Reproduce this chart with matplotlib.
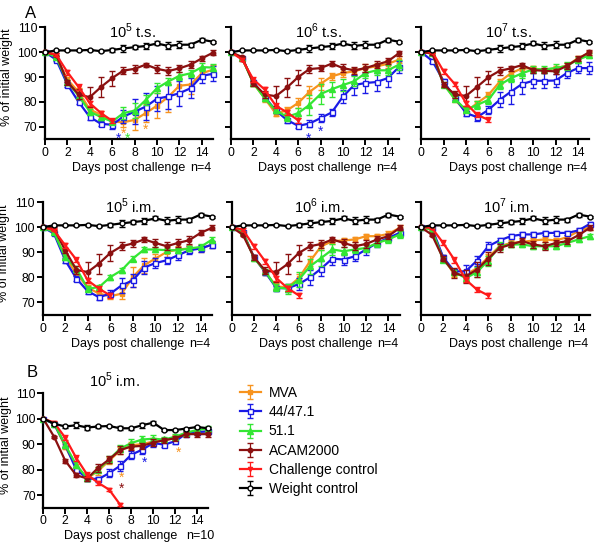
import matplotlib
matplotlib.use("Agg")
import matplotlib.pyplot as plt
from matplotlib.transforms import offset_copy

plt.rcParams['font.family'] = ['Liberation Sans', 'DejaVu Sans']
plt.rcParams['mathtext.fontset'] = 'custom'
plt.rcParams['mathtext.rm'] = 'Liberation Sans'

days = list(range(16))
names = ['MVA', '44/47.1', '51.1', 'ACAM2000', 'Challenge control', 'Weight control']
colors = ['#F7931E', '#1A1AE6', '#33E633', '#8B1010', '#FF1A1A', 'black']

# weight control, shared by all panels of A
wc_a = [100, 100.7, 100.7, 100.7, 100.9, 100.4, 100.9, 101.5, 102, 102.5, 103.5, 102.5, 103, 103, 105, 104.2]
wc_a_err = [0, .3, .3, .3, .3, .4, .9, 1.5, .8, 1.3, .8, 1.4, 1.5, .8, .8, .4]

# 10^5 t.s.  (mva, 44/47.1, 51.1, acam2000)
ts5 = [[100, 98, 89, 84, 77, 74.8, 72.1, 71.8, 72.8, 75.5, 78.5, 82, 86.5, 87, 91.5, 93],
       [100, 97, 87, 80, 73.9, 71.2, 70.8, 74.1, 76.1, 78.1, 81.3, 82.2, 83.5, 85.5, 90.5, 91.3],
       [100, 98, 88, 82.5, 76.1, 73.9, 72.1, 75.5, 76.5, 80.8, 85.5, 88.2, 90.5, 91.5, 94, 93.8],
       [100, 99, 88, 83, 81.9, 86, 89.6, 92.6, 93.3, 95, 93.3, 92.4, 93.5, 95, 97.5, 99.8]]
ts5_err = [[0, .5, 1, 1.5, 1, 1.5, 1, 2, 4, 3.5, 5, 6, 4, 4, 2, 2],
           [0, .5, 1, 1, 1, 1, 1.5, 2.5, 5, 5.5, 5, 5, 5, 4, 3, 3],
           [0, .5, 1, 1, 1, 1, 1, 2.5, 3, 2, 2, 1.5, 1.5, 1.5, 1.5, 1.5],
           [0, .5, 1, 2, 4, 4, 3, 1.5, 1.5, .8, 1.5, 1.5, 1.5, 1.5, 1, 1]]
ts5_chal = [100, 99, 92, 86, 79.5, 75.5, 72.4]
ts5_chal_err = [0, .5, 1, 1.2, 1, 1, 1]

# 10^6 t.s.
ts6 = [[100, 97.5, 87.5, 81.5, 75.3, 76.6, 79.6, 84, 87.3, 90.3, 91.6, 92.3, 93.6, 94.3, 95.3, 97],
       [100, 97.5, 88, 82, 76.6, 72.7, 70.4, 71.3, 73.5, 75.8, 82.2, 86.8, 87.6, 88, 89.6, 94],
       [100, 97.5, 87.5, 81.5, 76.6, 74, 75.5, 78.8, 83.2, 85.1, 86.8, 88.3, 91.6, 92.7, 92.7, 95],
       [100, 98, 87.5, 83, 82.3, 85.8, 90, 93.2, 93.6, 95.4, 93.6, 92.7, 93.6, 95, 96.3, 99.6]]
ts6_err = [[0, .5, 1, 1.5, 1, 1.5, 2, 2.5, 2.5, 1.5, 1.5, 1.5, 1.5, 1.5, 1.5, 1.5],
           [0, .5, 1, 1, 1, 1, 1, 1.5, 1.5, 1.5, 2.5, 4, 4, 3.5, 3.5, 2.5],
           [0, .5, 1, 1, 1, 1.5, 2, 4, 4, 3, 2.5, 2, 2, 2, 2, 2],
           [0, .5, 1, 1.5, 4, 4, 3, 1.5, 1.2, 1, 1.5, 1.5, 1.5, 1.5, 1.2, 1]]
ts6_chal = [100, 97, 89, 85, 78.5, 75.8, 72.6]
ts6_chal_err = [0, .5, 1, 1, 1, 1, 1]

# 10^7 t.s.
ts7 = [[100, 100, 87.6, 81, 76.1, 79.5, 82.8, 88.1, 91.5, 93.5, 93.5, 92.8, 93.6, 94.5, 97.6, 99.6],
       [100, 96.5, 88.3, 81.7, 75.5, 73.9, 76.8, 80.8, 84.1, 87.2, 88.5, 88.5, 88.6, 91.6, 93.6, 93.6],
       [100, 99.5, 87, 81.2, 76.8, 78.8, 80.8, 86.8, 89.5, 91.5, 93.1, 93.1, 93.6, 94.5, 97, 98.7],
       [100, 99.5, 87, 83, 82.4, 86.1, 89.9, 92.5, 93.5, 94.8, 92.8, 92.5, 92.3, 94.5, 97.3, 100]]
ts7_err = [[0, .5, 1, 1, 1, 1, 1, 1, 1, 1, 1, 1, 1, 1, 1, 1],
           [0, .8, 1, 1, 1, 1.5, 1.5, 3, 5, 4, 3, 3, 2.5, 2, 2, 2.5],
           [0, .5, 1, 1, 1, 1.5, 1.5, 1.5, 1.5, 2, 1.5, 1.5, 1.5, 1.5, 1, 1],
           [0, .5, 1, 1.5, 4, 4, 2.5, 1.5, 1, 1, 1, 1, 1, 1.2, 1, 1]]
ts7_chal = [100, 100, 92.3, 87.2, 79.5, 74.8, 72.8]
ts7_chal_err = [0, .5, 1, 1, 1, 1, 1]

# 10^5 i.m.
im5 = [[100, 98, 88, 81.5, 76, 73.5, 72.5, 73.5, 80.1, 84.8, 87.5, 90.1, 91.1, 91.5, 91.5, 93],
       [100, 97.5, 86.8, 79.5, 74.5, 72.1, 73.5, 76.8, 78.8, 83.9, 85.7, 86.8, 88.8, 90.8, 91.5, 93],
       [100, 98, 88, 83.5, 75.5, 76.1, 80.1, 82.8, 87.5, 91.1, 91.1, 90.8, 90.8, 91.5, 92.1, 95],
       [100, 99.5, 90.8, 83, 82.1, 85.5, 89.7, 92.4, 93.5, 95.1, 93.7, 92.4, 93.7, 94.8, 97.7, 99.7]]
im5_err = [[0, .5, 1, 1, 1, 1, 1, 2, 4, 3, 2, 2, 1.5, 1.5, 1.5, 1.5],
           [0, .5, 1, 1, 1, 1, 1.5, 3, 2.5, 2.5, 2, 1.5, 2, 1.5, 1.5, 1.5],
           [0, .5, 1, 1, 1, 1, 1, 1, 1, 1, 1, 1, 1, 1, 1, 1],
           [0, .5, 1, 1.5, 4, 4, 3, 1.5, 1.5, 1, 1.5, 1.5, 1.5, 1.5, 1, 1]]
im5_chal = [100, 98.8, 92.8, 87, 78.8, 75.5, 72.8]
im5_chal_err = [0, .5, 1, 1, 1, 1, 1]

# 10^6 i.m.
im6 = [[100, 98, 88, 82.1, 76.4, 76, 79.7, 86.4, 92.4, 94.4, 94.7, 95.1, 96.4, 96.4, 97.3, 99.7],
       [100, 98, 88, 82.1, 75.7, 75.7, 77.3, 80, 83.5, 87.5, 87.1, 88.4, 91.1, 93.7, 95.7, 97.7],
       [100, 98, 87.7, 82.4, 76, 75.5, 79.1, 84.4, 87.7, 91.1, 90.4, 91.1, 91.7, 93.7, 95.1, 97.1],
       [100, 97, 88, 82.7, 82.1, 85.3, 89.7, 92.4, 93.3, 95.1, 93.7, 92.4, 93.3, 95.1, 96.4, 99.7]]
im6_err = [[0, .5, 1, 1, 1.5, 1.5, 1.5, 2, 1.5, 1, 1, 1, 1, 1, 1, 1],
           [0, .5, 1, 1, 1, 1.5, 2.5, 3, 3, 2.5, 2, 2, 2, 1.5, 1.5, 1.5],
           [0, .5, 1, 1, 1.5, 2, 3, 3, 3, 2, 1.5, 1.5, 1.5, 1.5, 1.5, 1.5],
           [0, .5, 1, 1.5, 4, 4, 3, 1.5, 1.5, 1, 1.5, 1.5, 1.5, 1.5, 1, 1]]
im6_chal = [100, 99, 92.4, 86.4, 79.7, 75.7, 72.8]
im6_chal_err = [0, .5, 1, 1, 1, 1, 1]

# 10^7 i.m.
im7 = [[100, 99, 88, 81, 81, 83.7, 88, 92.4, 93.7, 94.1, 94.7, 95.1, 94.7, 96, 98.4, 100],
       [100, 99.7, 88, 82.4, 82.4, 86.7, 92.4, 94.7, 96.4, 97.1, 97.1, 97.7, 97.7, 97.7, 98.7, 101.3],
       [100, 99, 87, 82.1, 79.7, 82.1, 86.7, 92.4, 93.1, 93.1, 92.4, 92.4, 92.4, 93.7, 95.1, 96.4],
       [100, 97, 87.5, 81.7, 80.4, 83.1, 87.5, 91.7, 93.1, 94.4, 93.1, 92.4, 93.7, 94.4, 96.8, 99.7]]
im7_err = [[0, .5, 1, 1, 1.5, 1.5, 1.5, 1, 1, 1, 1, 1, 1, 1, 1, 1],
           [0, .5, 1, 1, 2.5, 2, 1.5, 1, .8, .8, .8, .8, .8, .8, .8, .8],
           [0, .5, 1, 1, 1.5, 2, 2, 1.5, 1, 1, 1, 1, 1, 1, 1, 1],
           [0, .5, 1, 2, 2.5, 3, 2.5, 1.5, 1, 1.2, 1.5, 1.5, 1.2, 1.2, 1.2, 1]]
im7_chal = [100, 99.7, 93.7, 87, 79.1, 75.1, 72.8]
im7_chal_err = [0, .5, 1, 1.2, 1, 1, 1]

# B: 10^5 i.m., n=10
b5 = [[100, 98, 89, 81, 76.5, 79.5, 83.5, 87.5, 89.5, 90, 91, 91.5, 92.5, 94, 94.5, 95],
      [100, 97.8, 89.7, 80, 76.6, 76.2, 78.6, 81.5, 85.8, 87.8, 90.4, 89.8, 91.1, 94.1, 94.7, 95],
      [100, 98, 89.7, 81.9, 76.6, 80, 84, 88.2, 90.4, 91.8, 92.1, 91.8, 92.9, 94.5, 95.5, 96.1],
      [100, 92.8, 83.5, 77.8, 76.5, 80.7, 84, 87.7, 89, 89.3, 90.6, 91.5, 92.3, 93.9, 93.9, 93.9]]
b5_err = [[0, .5, 1, 1, 1, 1.5, 1.5, 1.5, 1.5, 1.5, 1.5, 1, 1, 1, 1, 1],
          [0, .5, 1, 1, 1, 1, 1.5, 2, 1.5, 1.5, 1.5, 1, 1, 1, 1, 1],
          [0, .5, 1, 1, 1, 1, 1.5, 1.5, 1.5, 1.5, 1.5, 1, 1, 1, 1, 1],
          [0, .5, .8, .8, 1, 1.5, 1.5, 1.5, 1.2, 1.2, 1.2, 1, 1, 1, 1, 1]]
b5_chal = [100, 98.4, 92.5, 84.6, 78, 74.8, 72.1, 66.2]
b5_chal_err = [0, .5, 1, 1.2, 1, .8, .5, .5]
wc_b = [100, 98, 96.9, 97.4, 96.5, 96.9, 97.1, 96.2, 96.2, 97.4, 98.4, 95.5, 95.5, 96.1, 96.7, 96.2]
wc_b_err = [0, .5, .6, 1.2, .8, .6, .5, .8, .6, 1, .8, .5, .4, .4, .4, .4]

# significance stars: (day, value, series index)
ts5_stars = [(6.6, 66.6, 1), (7.0, 68.4, 0), (7.4, 66.6, 2), (9.0, 70.3, 0)]
ts6_stars = [(6.95, 66.4, 1), (8.0, 69.5, 1)]
b5_stars = [(7.1, 78.0, 0), (7.1, 74.0, 3), (9.2, 84.0, 1), (12.3, 88.0, 0)]

markers = ['s', 's', '^', 'o', 'v', 'o']
mfcs = [colors[0], 'white', colors[2], colors[3], colors[4], 'white']
msizes = [3.2, 3.6, 3.8, 3.2, 3, 3.5]


def draw(ax, means, errs, chal, chal_err, wc, wc_err, stars=()):
    handles = []
    series = list(zip(means, errs)) + [(chal, chal_err), (wc, wc_err)]
    for i, (m, e) in enumerate(series):
        x = days[:len(m)]
        h = ax.errorbar(x, m, yerr=e, color=colors[i], marker=markers[i],
                        mfc=mfcs[i], mec=colors[i], ms=msizes[i], mew=1.0,
                        lw=1.6, elinewidth=0.9, capsize=2.2, capthick=0.9,
                        clip_on=False, zorder=3 + i)
        for art in h.lines[1] + h.lines[2]:
            art.set_clip_on(False)
        handles.append(h)
    star_tr = offset_copy(ax.transData, fig=ax.figure, y=-2.5, units='points')
    for d, v, k in stars:
        ax.text(d, v, '*', color=colors[k], ha='center', va='center',
                fontsize=10, transform=star_tr)
    ax.set_xlim(0, 15)
    ax.set_ylim(65, 110)
    ax.set_xticks(range(0, 16, 2))
    ax.set_yticks([70, 80, 90, 100, 110])
    for s in ['top', 'right']:
        ax.spines[s].set_visible(False)
    for s in ['left', 'bottom']:
        ax.spines[s].set_linewidth(1.6)
    ax.tick_params(width=1.4, length=4, labelsize=8.8, pad=1.5)
    return handles


fig = plt.figure(figsize=(6, 5.46), dpi=100)

positions = [[0.075, 0.745, 0.280, 0.205], [0.385, 0.745, 0.280, 0.205], [0.702, 0.745, 0.280, 0.205],
             [0.071, 0.423, 0.282, 0.207], [0.386, 0.423, 0.280, 0.207], [0.701, 0.423, 0.282, 0.207]]
panels = [(ts5, ts5_err, ts5_chal, ts5_chal_err, ts5_stars, '10$^5$ t.s.'),
          (ts6, ts6_err, ts6_chal, ts6_chal_err, ts6_stars, '10$^6$ t.s.'),
          (ts7, ts7_err, ts7_chal, ts7_chal_err, (), '10$^7$ t.s.'),
          (im5, im5_err, im5_chal, im5_chal_err, (), '10$^5$ i.m.'),
          (im6, im6_err, im6_chal, im6_chal_err, (), '10$^6$ i.m.'),
          (im7, im7_err, im7_chal, im7_chal_err, (), '10$^7$ i.m.')]

for k, (pos, (m, e, c, ce, st, title)) in enumerate(zip(positions, panels)):
    ax = fig.add_axes(pos)
    draw(ax, m, e, c, ce, wc_a, wc_a_err, st)
    ax.text(0.52, 0.96, title, transform=ax.transAxes, ha='center', va='center', fontsize=10.5)
    ax.text(0.50, -0.26, 'Days post challenge', transform=ax.transAxes, ha='center', va='center', fontsize=9)
    ax.text(0.99, -0.26, 'n=4', transform=ax.transAxes, ha='right', va='center', fontsize=9)
    if k % 3 == 0:
        ax.set_ylabel('% of initial weight', fontsize=9)
        ax.yaxis.set_label_coords(-0.19, 0.55)
    else:
        ax.set_yticklabels([])

axb = fig.add_axes([0.072, 0.070, 0.275, 0.210])
hb = draw(axb, b5, b5_err, b5_chal, b5_chal_err, wc_b, wc_b_err, b5_stars)
axb.text(0.43, 1.11, '10$^5$ i.m.', transform=axb.transAxes, ha='center', va='center', fontsize=10.5)
axb.text(0.47, -0.245, 'Days post challenge', transform=axb.transAxes, ha='center', va='center', fontsize=9)
axb.text(1.04, -0.245, 'n=10', transform=axb.transAxes, ha='right', va='center', fontsize=9)
axb.set_ylabel('% of initial weight', fontsize=9)
axb.yaxis.set_label_coords(-0.19, 0.55)

fig.text(0.042, 0.975, 'A', fontsize=12, ha='left', va='center')
fig.text(0.045, 0.318, 'B', fontsize=12, ha='left', va='center')

fig.legend(hb, names, loc='upper left', bbox_to_anchor=(0.388, 0.306), frameon=False,
           fontsize=10, handlelength=1.5, handletextpad=0.6, labelspacing=0.38, borderpad=0)

fig.savefig('out.png', dpi=100)
